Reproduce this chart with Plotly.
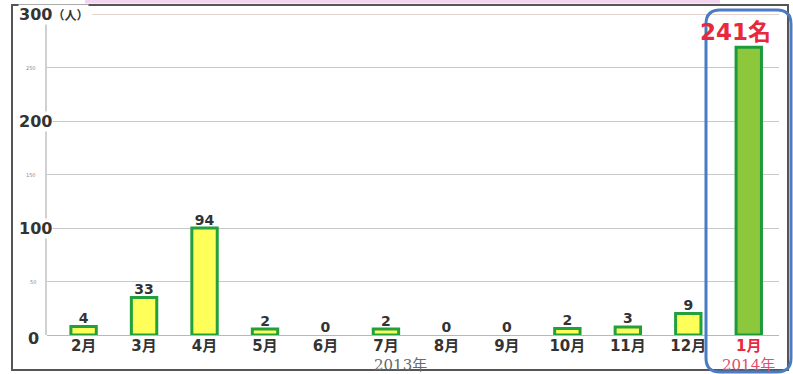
import plotly.graph_objects as go

# ---- data ----
months = ["2月", "3月", "4月", "5月", "6月", "7月", "8月", "9月", "10月", "11月", "12月", "1月"]
bar_heights = [8, 35, 100, 5.5, 0, 5.5, 0, 0, 6, 7.5, 20, 269]   # drawn bar heights
value_labels = ["4", "33", "94", "2", "0", "2", "0", "0", "2", "3", "9", "241名"]
ytick_vals = [300, 250, 200, 150, 100, 50, 0]
ytick_text = ["300", "250", "200", "150", "100", "50", "0"]
year_labels = ["2013年", "2014年"]

W, H = 793, 374
L, R, T, B = 47, 779, 14, 335


def px_x(p):
    return (p - L) / (R - L)


def px_y(p):
    return (B - p) / (B - T)


FONT = "DejaVu Sans, Noto Sans CJK JP, sans-serif"
RED = "#e8283c"

fill_colors = ["#ffff5a"] * 11 + ["#8dc83c"]
line_colors = ["#22a03c"] * 11 + ["#1c9a3c"]
line_widths = [3 if h > 0 else 0 for h in bar_heights]

fig = go.Figure()
fig.add_trace(go.Bar(
    x=months, y=bar_heights, width=0.42,
    marker=dict(color=fill_colors, line=dict(color=line_colors, width=line_widths)),
    hoverinfo="skip",
))
fig.add_trace(go.Scatter(
    x=months[:11], y=bar_heights[:11], text=value_labels[:11],
    mode="text", textposition="top center",
    textfont=dict(family=FONT, size=14, color="#333333", weight="bold"),
    hoverinfo="skip",
))

ticktext = months[:11] + ['<span style="color:%s">%s</span>' % (RED, months[11])]

fig.update_layout(
    width=W, height=H,
    margin=dict(l=L, r=W - R, t=T, b=H - B, pad=0),
    paper_bgcolor="white", plot_bgcolor="white",
    showlegend=False,
    bargap=0.58,
    xaxis=dict(
        tickvals=months, ticktext=ticktext, showgrid=False, showline=False,
        ticks="", tickfont=dict(family=FONT, size=15, color="#333333", weight="bold"),
        ticklabelstandoff=0, fixedrange=True,
    ),
    yaxis=dict(
        range=[0, 300], tickvals=ytick_vals, showticklabels=False,
        gridcolor="#c8c8c8", gridwidth=1, zeroline=True, zerolinecolor="#b8b8b8",
        zerolinewidth=1, showline=True, linecolor="#d0d0d0", linewidth=2,
        fixedrange=True,
    ),
)

# y tick labels (big bold ones and tiny ones)
big = {"300": (18, 16), "200": (18, 16), "100": (18, 16), "0": (27, 16)}
for v, t in zip(ytick_vals, ytick_text):
    if t in big:
        xl, fs = big[t]
        txt = t if t != "300" else '300<span style="font-size:12px">（人）</span>'
        fig.add_annotation(
            x=px_x(xl), xref="paper", y=v, yref="y", text=txt, showarrow=False,
            xanchor="left", yanchor="middle", yshift=-3 if t == "0" else 0,
            font=dict(family=FONT, size=fs, color="#333333", weight="bold"),
            bgcolor="white", borderpad=0,
        )
    else:
        fig.add_annotation(
            x=px_x(38), xref="paper", y=v, yref="y", text=t, showarrow=False,
            xanchor="right", yanchor="middle",
            font=dict(family=FONT, size=5, color="#888888"),
        )

# big red total label for January
fig.add_annotation(
    x=months[11], xref="x", y=283, yref="y", text=value_labels[11], showarrow=False,
    xshift=-13, xanchor="center", yanchor="middle",
    font=dict(family=FONT, size=23, color=RED, weight="bold"),
)

# year labels
fig.add_annotation(
    x=px_x(400), xref="paper", y=px_y(364.5), yref="paper", text=year_labels[0],
    showarrow=False, xanchor="center", yanchor="middle",
    font=dict(family="DejaVu Serif, Noto Sans CJK JP", size=15, color="#6a6a6a"),
)
fig.add_annotation(
    x=px_x(748), xref="paper", y=px_y(364.5), yref="paper", text=year_labels[1],
    showarrow=False, xanchor="center", yanchor="middle",
    font=dict(family="DejaVu Serif, Noto Sans CJK JP", size=15, color="#e0506a"),
)

# top 300 gridline tinted
fig.add_shape(type="line", xref="paper", yref="y", x0=px_x(92), x1=1, y0=300, y1=300,
              line=dict(color="#dcc6bc", width=1.5), layer="above")

# pink strip at top
fig.add_shape(type="rect", xref="paper", yref="paper",
              x0=px_x(85), x1=px_x(720), y0=px_y(0), y1=px_y(3.5),
              line=dict(width=0), fillcolor="#f2d4f0", layer="above")

# outer frame
fig.add_shape(type="rect", xref="paper", yref="paper",
              x0=px_x(12), x1=px_x(788), y0=px_y(370), y1=px_y(5),
              line=dict(color="#555555", width=2), layer="above")

# blue rounded rectangle around January
x0, x1, y0, y1, r = 706, 791, 10, 372, 14
pts = lambda a, b: "%f,%f" % (px_x(a), px_y(b))
path = ("M " + pts(x0 + r, y0) + " L " + pts(x1 - r, y0) +
        " Q " + pts(x1, y0) + " " + pts(x1, y0 + r) +
        " L " + pts(x1, y1 - r) +
        " Q " + pts(x1, y1) + " " + pts(x1 - r, y1) +
        " L " + pts(x0 + r, y1) +
        " Q " + pts(x0, y1) + " " + pts(x0, y1 - r) +
        " L " + pts(x0, y0 + r) +
        " Q " + pts(x0, y0) + " " + pts(x0 + r, y0) + " Z")
fig.add_shape(type="path", xref="paper", yref="paper", path=path,
              line=dict(color="#4a7bc4", width=3), layer="above")

fig.write_html("out.html", config={"displayModeBar": False})
